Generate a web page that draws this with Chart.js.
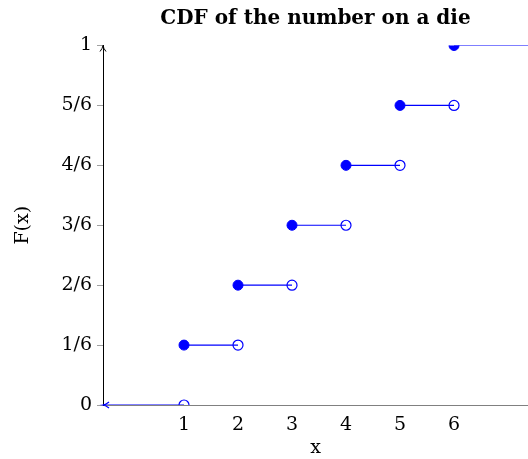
<!DOCTYPE html>
<html>
<head>
<meta charset="utf-8">
<script src="https://cdn.jsdelivr.net/npm/chart.js@4"></script>
<style>
  html, body { margin: 0; padding: 0; background: #fff; overflow: hidden; }
  #wrap { width: 528px; height: 459px; }
</style>
</head>
<body>
<div id="wrap"><canvas id="cdf"></canvas></div>
<script>
// die faces and the cdf value reached at each face
const faces = [1, 2, 3, 4, 5, 6];
const cdfValues = [1/6, 2/6, 3/6, 4/6, 5/6, 1];
const yTickValues = [0, 1/6, 2/6, 3/6, 4/6, 5/6, 1];
const yTickLabels = ['0', '1/6', '2/6', '3/6', '4/6', '5/6', '1'];
const xMin = -0.5, xMax = 7.37;

const BLUE = '#0000ff';
const SERIF = "'DejaVu Serif', 'Liberation Serif', serif";

// horizontal steps: before the first face, then between faces, then to the right edge
const datasets = [];
const stepStarts = [xMin].concat(faces);
const stepEnds = faces.concat([xMax]);
const stepLevels = [0].concat(cdfValues);
for (let i = 0; i < stepStarts.length; i++) {
   datasets.push({
      type: 'line',
      data: [{x: stepStarts[i], y: stepLevels[i]}, {x: stepEnds[i], y: stepLevels[i]}],
      borderColor: BLUE,
      borderWidth: 1.2,
      pointRadius: 0,
      pointHoverRadius: 0,
      fill: false
   });
}

// open circles: the value just before each jump
datasets.push({
   type: 'scatter',
   data: faces.map((f, i) => ({x: f, y: stepLevels[i]})),
   pointRadius: 5,
   pointBackgroundColor: '#fff',
   pointBorderColor: BLUE,
   pointBorderWidth: 1.2
});
// filled circles: the value at each jump
datasets.push({
   type: 'scatter',
   data: faces.map((f, i) => ({x: f, y: cdfValues[i]})),
   pointRadius: 5,
   pointBackgroundColor: BLUE,
   pointBorderColor: BLUE,
   pointBorderWidth: 1
});

// arrow heads on the y axis and at the left end of the first step
const arrows = {
   id: 'arrows',
   afterDatasetsDraw(chart) {
      const ctx = chart.ctx;
      const xs = chart.scales.x, ys = chart.scales.y;
      const x0 = xs.getPixelForValue(xMin);
      const yTop = ys.getPixelForValue(1);
      const yZero = ys.getPixelForValue(0);
      ctx.save();
      ctx.lineWidth = 1;
      ctx.strokeStyle = '#000';
      ctx.beginPath();
      ctx.moveTo(x0 - 3, yTop + 6);
      ctx.quadraticCurveTo(x0 - 0.5, yTop + 3, x0, yTop);
      ctx.quadraticCurveTo(x0 + 0.5, yTop + 3, x0 + 3, yTop + 6);
      ctx.stroke();
      ctx.strokeStyle = BLUE;
      ctx.lineWidth = 1.2;
      ctx.beginPath();
      ctx.moveTo(x0 + 6, yZero - 3);
      ctx.quadraticCurveTo(x0 + 3, yZero - 0.5, x0, yZero);
      ctx.quadraticCurveTo(x0 + 3, yZero + 0.5, x0 + 6, yZero + 3);
      ctx.stroke();
      ctx.restore();
   }
};

new Chart(document.getElementById('cdf'), {
   data: { datasets: datasets },
   plugins: [arrows],
   options: {
      responsive: true,
      maintainAspectRatio: false,
      animation: false,
      layout: { autoPadding: false, padding: { left: 12, right: 0, top: 0, bottom: 0 } },
      plugins: {
         legend: { display: false },
         tooltip: { enabled: false },
         title: {
            display: true,
            fullSize: false,
            text: 'CDF of the number on a die',
            color: '#000',
            font: { family: SERIF, size: 20, weight: 'bold' },
            padding: { top: 7, bottom: 14.5 }
         }
      },
      scales: {
         x: {
            type: 'linear',
            min: xMin,
            max: xMax,
            afterBuildTicks: (s) => { s.ticks = faces.map(v => ({value: v})); },
            afterFit: (s) => { s.height = 54; },
            grid: { display: false, drawTicks: false },
            border: { display: true, color: '#808080', width: 1 },
            ticks: {
               color: '#000',
               padding: 9,
               font: { family: SERIF, size: 19 },
               callback: (v) => String(v)
            },
            title: {
               display: true,
               text: 'x',
               color: '#000',
               font: { family: SERIF, size: 19 },
               padding: { top: 0, bottom: 0 }
            }
         },
         y: {
            type: 'linear',
            min: 0,
            max: 1,
            afterBuildTicks: (s) => { s.ticks = yTickValues.map(v => ({value: v})); },
            afterFit: (s) => { s.width = 91; },
            grid: { drawOnChartArea: false, drawTicks: true, tickLength: 6, color: '#a0a0a0' },
            border: { display: true, color: '#000', width: 1 },
            ticks: {
               color: '#000',
               padding: 5,
               font: { family: SERIF, size: 19 },
               callback: (v, i) => yTickLabels[i]
            },
            title: {
               display: true,
               text: 'F(x)',
               color: '#000',
               font: { family: SERIF, size: 19 },
               padding: { top: 0, bottom: 0 }
            }
         }
      }
   }
});
</script>
</body>
</html>
